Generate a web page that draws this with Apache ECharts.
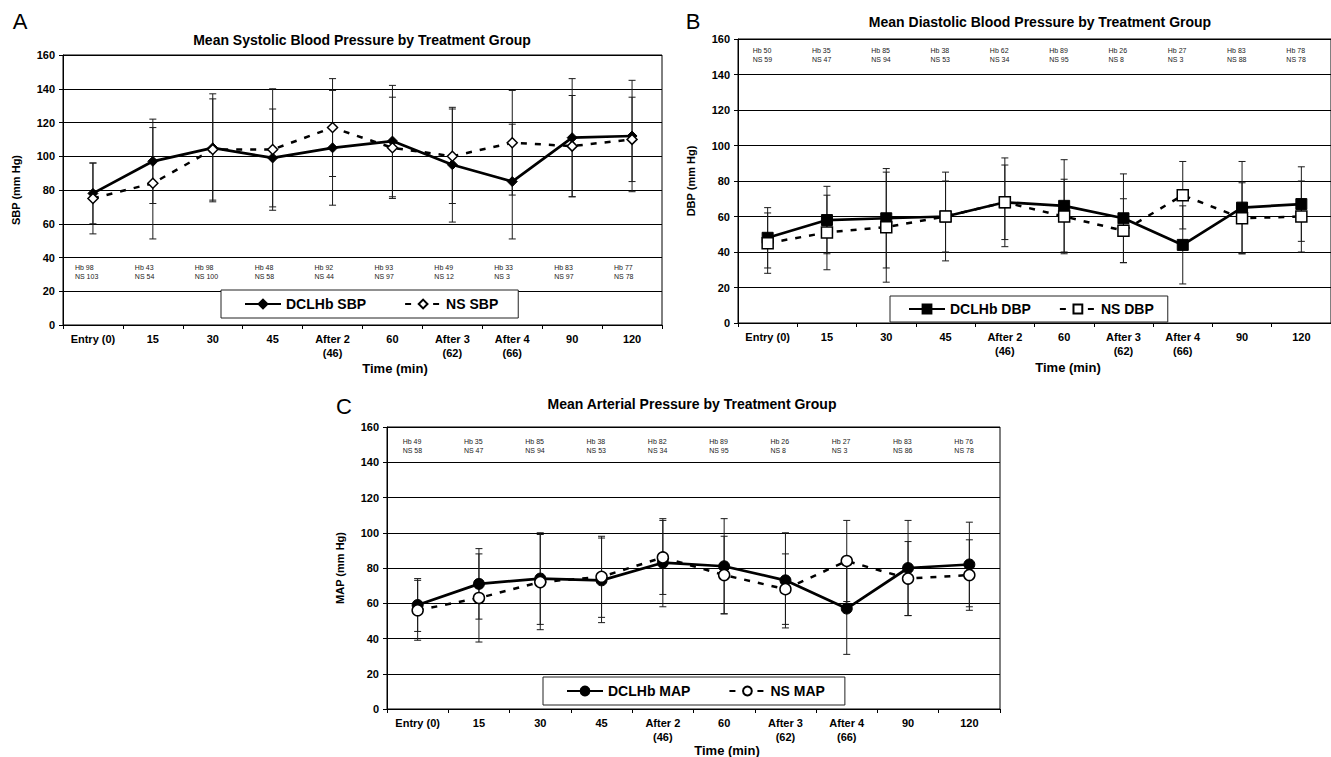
<!DOCTYPE html>
<html><head><meta charset="utf-8">
<script src="https://cdn.jsdelivr.net/npm/echarts/dist/echarts.min.js"></script>
<style>html,body{margin:0;padding:0;background:#fff}#c{width:1331px;height:757px}</style>
</head><body><div id="c"></div>
<script>
// ---------- DATA ----------
const categories = ['Entry (0)', '15', '30', '45', 'After 2\n(46)', '60', 'After 3\n(62)', 'After 4\n(66)', '90', '120'];
const yMin = 0, yMax = 160, yStep = 20;

// Panel A – systolic
const sbpHb   = [78, 97, 105, 99, 105, 109, 95, 85, 111, 112];
const sbpHbSD = [18, 25, 32, 29, 34, 33, 34, 34, 35, 33];
const sbpNS   = [75, 84, 104, 104, 117, 105, 100, 108, 106, 110];
const sbpNSSD = [21, 33, 30, 36, 29, 30, 28, 31, 30, 25];
const sbpHbN  = [98, 43, 98, 48, 92, 93, 49, 33, 83, 77];
const sbpNSN  = [103, 54, 100, 58, 44, 97, 12, 3, 97, 78];

// Panel B – diastolic
const dbpHb   = [48, 58, 59, 60, 68, 66, 59, 44, 65, 67];
const dbpHbSD = [17, 19, 28, 20, 21, 26, 25, 22, 26, 21];
const dbpNS   = [45, 51, 54, 60, 68, 60, 52, 72, 59, 60];
const dbpNSSD = [17, 21, 31, 25, 25, 21, 18, 19, 20, 20];
const dbpHbN  = [50, 35, 85, 38, 62, 89, 26, 27, 83, 78];
const dbpNSN  = [59, 47, 94, 53, 34, 95, 8, 3, 88, 78];

// Panel C – mean arterial
const mapHb   = [59, 71, 74, 73, 83, 81, 73, 57, 80, 82];
const mapHbSD = [15, 20, 26, 24, 25, 27, 27, 26, 27, 24];
const mapNS   = [56, 63, 72, 75, 86, 76, 68, 84, 74, 76];
const mapNSSD = [17, 25, 27, 23, 21, 22, 20, 23, 21, 20];
const mapHbN  = [49, 35, 85, 38, 82, 89, 26, 27, 83, 76];
const mapNSN  = [58, 47, 94, 53, 34, 95, 8, 3, 86, 78];

// ---------- LAYOUT ----------
const FONT = '"Liberation Sans", Arial, sans-serif';
const panels = [
  { key: 'A', title: 'Mean Systolic Blood Pressure by Treatment Group', yName: 'SBP (mm Hg)', m: 'SBP',
    hb: sbpHb, hbSD: sbpHbSD, ns: sbpNS, nsSD: sbpNSSD, hbN: sbpHbN, nsN: sbpNSN,
    grid: { left: 63, top: 55, width: 599, height: 270 }, annotLevel: 31.5, annotDx: -18,
    sym: 'diamond', symSize: 10, nsSymSize: 10,
    letter: [20, 21], titlePos: [362, 40], timePos: [395, 368],
    legend: { left: 221, top: 290, padding: [7, 20, 7, 23], gap: 38 } },
  { key: 'B', title: 'Mean Diastolic Blood Pressure by Treatment Group', yName: 'DBP (mm Hg)', m: 'DBP',
    hb: dbpHb, hbSD: dbpHbSD, ns: dbpNS, nsSD: dbpNSSD, hbN: dbpHbN, nsN: dbpNSN,
    grid: { left: 738, top: 39, width: 601, height: 284 }, annotLevel: 151, annotDx: -15,
    sym: 'rect', symSize: 11, nsSymSize: 11,
    letter: [693, 21], titlePos: [1040, 22], timePos: [1068, 367],
    legend: { left: 890, top: 296, padding: [6, 14, 6, 18], gap: 28 } },
  { key: 'C', title: 'Mean Arterial Pressure by Treatment Group', yName: 'MAP (mm Hg)', m: 'MAP',
    hb: mapHb, hbSD: mapHbSD, ns: mapNS, nsSD: mapNSSD, hbN: mapHbN, nsN: mapNSN,
    grid: { left: 387, top: 427, width: 613, height: 282 }, annotLevel: 149.5, annotDx: -15,
    sym: 'circle', symSize: 11, nsSymSize: 11,
    letter: [344, 406], titlePos: [692, 404], timePos: [727, 750],
    legend: { left: 543, top: 677, padding: [7, 20, 7, 23], gap: 38 } }
];

const grids = [], xAxes = [], yAxes = [], series = [], legends = [], graphics = [];

function errSeries(gi, means, sds) {
  return {
    type: 'custom', xAxisIndex: gi, yAxisIndex: gi, silent: true, z: 1,
    encode: { x: 0, y: [1, 2] },
    data: means.map((m, i) => [i, m - sds[i], m + sds[i]]),
    renderItem(params, api) {
      const x = api.value(0);
      const lo = api.coord([x, api.value(1)]);
      const hi = api.coord([x, api.value(2)]);
      const w = 3.5, st = { stroke: '#1a1a1a', lineWidth: 1 };
      return { type: 'group', children: [
        { type: 'line', shape: { x1: lo[0], y1: lo[1], x2: hi[0], y2: hi[1] }, style: st },
        { type: 'line', shape: { x1: lo[0] - w, y1: lo[1], x2: lo[0] + w, y2: lo[1] }, style: st },
        { type: 'line', shape: { x1: hi[0] - w, y1: hi[1], x2: hi[0] + w, y2: hi[1] }, style: st }
      ] };
    }
  };
}

function annotSeries(gi, hbN, nsN, level, dx) {
  return {
    type: 'custom', xAxisIndex: gi, yAxisIndex: gi, silent: true, z: 3,
    encode: { x: 0, y: 1 },
    data: hbN.map((h, i) => [i, level, h, nsN[i]]),
    renderItem(params, api) {
      const p = api.coord([api.value(0), api.value(1)]);
      return { type: 'text', x: p[0] + dx, y: p[1], style: {
        text: 'Hb ' + api.value(2) + '\nNS ' + api.value(3),
        fill: '#1a1a1a', font: '7px ' + FONT, lineHeight: 9,
        textAlign: 'left', textVerticalAlign: 'middle', align: 'left', verticalAlign: 'middle' } };
    }
  };
}

panels.forEach((p, gi) => {
  grids.push(Object.assign({ show: true, borderColor: '#000', borderWidth: 1, containLabel: false }, p.grid));
  xAxes.push({
    type: 'category', gridIndex: gi, data: categories, boundaryGap: true,
    axisLine: { lineStyle: { color: '#000', width: 1 } },
    axisTick: { show: true, length: 4, interval: 0, lineStyle: { color: '#000' } },
    axisLabel: { interval: 0, margin: 7, color: '#000', fontFamily: FONT, fontWeight: 'bold', fontSize: 11, lineHeight: 14 },
    splitLine: { show: false }
  });
  yAxes.push({
    type: 'value', gridIndex: gi, min: yMin, max: yMax, interval: yStep,
    name: p.yName, nameLocation: 'middle', nameGap: 42, nameRotate: 90,
    nameTextStyle: { color: '#000', fontFamily: FONT, fontWeight: 'bold', fontSize: 11 },
    axisLine: { show: true, lineStyle: { color: '#000', width: 1 } },
    axisTick: { show: true, length: 4, lineStyle: { color: '#000' } },
    axisLabel: { margin: 8, color: '#000', fontFamily: FONT, fontWeight: 'bold', fontSize: 11 },
    splitLine: { show: true, lineStyle: { color: '#000', width: 1 } }
  });
  series.push(errSeries(gi, p.hb, p.hbSD));
  series.push(errSeries(gi, p.ns, p.nsSD));
  const hbName = 'DCLHb ' + p.m, nsName = 'NS ' + p.m;
  series.push({
    name: hbName, type: 'line', xAxisIndex: gi, yAxisIndex: gi, data: p.hb, z: 4,
    symbol: p.sym, symbolSize: p.symSize, showAllSymbol: true,
    lineStyle: { color: '#000', width: 2.7, type: 'solid' },
    itemStyle: { color: '#000', borderColor: '#000', borderWidth: 1 },
    emphasis: { disabled: true }, animation: false
  });
  series.push({
    name: nsName, type: 'line', xAxisIndex: gi, yAxisIndex: gi, data: p.ns, z: 5,
    symbol: p.sym, symbolSize: p.nsSymSize, showAllSymbol: true,
    lineStyle: { color: '#000', width: 2.5, type: [6, 8] },
    itemStyle: { color: '#fff', borderColor: '#000', borderWidth: 1.5 },
    emphasis: { disabled: true }, animation: false
  });
  series.push(annotSeries(gi, p.hbN, p.nsN, p.annotLevel, p.annotDx));
  legends.push({
    data: [hbName, nsName], left: p.legend.left, top: p.legend.top, orient: 'horizontal',
    backgroundColor: '#fff', borderColor: '#222', borderWidth: 1, padding: p.legend.padding,
    itemGap: p.legend.gap, itemWidth: 36, itemHeight: 11, selectedMode: false,
    textStyle: { color: '#000', fontFamily: FONT, fontWeight: 'bold', fontSize: 14 }
  });
  graphics.push({ type: 'text', x: p.letter[0], y: p.letter[1], style: { text: p.key, fill: '#000', font: '22px ' + FONT, textAlign: 'center', textVerticalAlign: 'middle' } });
  graphics.push({ type: 'text', x: p.titlePos[0], y: p.titlePos[1], style: { text: p.title, fill: '#000', font: 'bold 14px ' + FONT, textAlign: 'center', textVerticalAlign: 'middle' } });
  graphics.push({ type: 'text', x: p.timePos[0], y: p.timePos[1], style: { text: 'Time (min)', fill: '#000', font: 'bold 13px ' + FONT, textAlign: 'center', textVerticalAlign: 'middle' } });
});

const chart = echarts.init(document.getElementById('c'), null, { renderer: 'svg', width: 1331, height: 757 });
chart.setOption({
  backgroundColor: '#fff',
  animation: false,
  grid: grids, xAxis: xAxes, yAxis: yAxes, series: series, legend: legends,
  graphic: graphics,
  tooltip: { show: false }
});
</script></body></html>
